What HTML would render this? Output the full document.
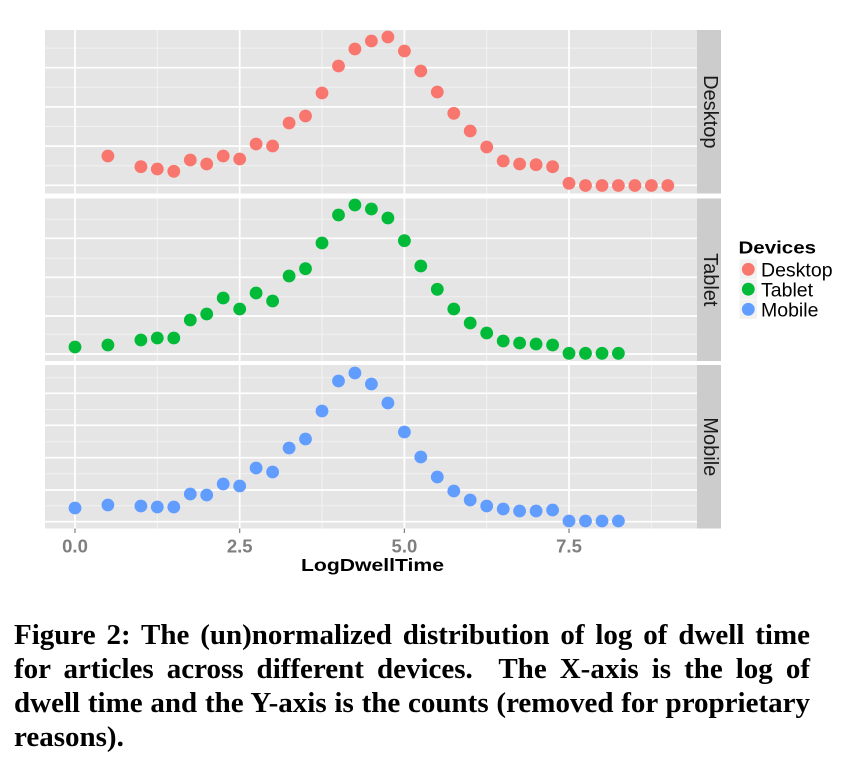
<!DOCTYPE html>
<html>
<head>
<meta charset="utf-8">
<style>
  html, body { margin:0; padding:0; background:#ffffff; }
  body { width:845px; height:769px; position:relative; overflow:hidden; }
  svg { position:absolute; left:0; top:0; }
  .cap { position:absolute; left:14px; width:796px; height:34.1px; line-height:34.1px;
         font-family:"Liberation Serif", serif; font-weight:bold; font-size:29px; color:#000;
         white-space:nowrap; }
  .j { text-align:justify; text-align-last:justify; }
</style>
</head>
<body>
<svg width="845" height="769" viewBox="0 0 845 769" xmlns="http://www.w3.org/2000/svg">
  <!-- Panels background -->
  <rect x="45" y="30" width="652" height="163.5" fill="#e5e5e5"/>
  <rect x="45" y="198.5" width="652" height="162.5" fill="#e5e5e5"/>
  <rect x="45" y="365" width="652" height="163.5" fill="#e5e5e5"/>

  <!-- Panel 1 grid -->
  <g stroke="#f2f2f2" stroke-width="1">
    <line x1="45" x2="697" y1="48.1" y2="48.1"/>
    <line x1="45" x2="697" y1="87.3" y2="87.3"/>
    <line x1="45" x2="697" y1="126.5" y2="126.5"/>
    <line x1="45" x2="697" y1="165.7" y2="165.7"/>
    <line y1="30" y2="193.5" x1="157.3" x2="157.3"/>
    <line y1="30" y2="193.5" x1="322" x2="322"/>
    <line y1="30" y2="193.5" x1="486.7" x2="486.7"/>
    <line y1="30" y2="193.5" x1="651.4" x2="651.4"/>
  </g>
  <g stroke="#ffffff" stroke-width="1.7">
    <line x1="45" x2="697" y1="67.7" y2="67.7"/>
    <line x1="45" x2="697" y1="106.9" y2="106.9"/>
    <line x1="45" x2="697" y1="146.1" y2="146.1"/>
    <line x1="45" x2="697" y1="185.3" y2="185.3"/>
    <line y1="30" y2="193.5" x1="75" x2="75"/>
    <line y1="30" y2="193.5" x1="239.7" x2="239.7"/>
    <line y1="30" y2="193.5" x1="404.4" x2="404.4"/>
    <line y1="30" y2="193.5" x1="569" x2="569"/>
  </g>

  <!-- Panel 2 grid -->
  <g stroke="#f2f2f2" stroke-width="1">
    <line x1="45" x2="697" y1="219.3" y2="219.3"/>
    <line x1="45" x2="697" y1="258.3" y2="258.3"/>
    <line x1="45" x2="697" y1="296.7" y2="296.7"/>
    <line x1="45" x2="697" y1="334.3" y2="334.3"/>
    <line y1="198.5" y2="361" x1="157.3" x2="157.3"/>
    <line y1="198.5" y2="361" x1="322" x2="322"/>
    <line y1="198.5" y2="361" x1="486.7" x2="486.7"/>
    <line y1="198.5" y2="361" x1="651.4" x2="651.4"/>
  </g>
  <g stroke="#ffffff" stroke-width="1.7">
    <line x1="45" x2="697" y1="238.3" y2="238.3"/>
    <line x1="45" x2="697" y1="277.3" y2="277.3"/>
    <line x1="45" x2="697" y1="316" y2="316"/>
    <line x1="45" x2="697" y1="354" y2="354"/>
    <line y1="198.5" y2="361" x1="75" x2="75"/>
    <line y1="198.5" y2="361" x1="239.7" x2="239.7"/>
    <line y1="198.5" y2="361" x1="404.4" x2="404.4"/>
    <line y1="198.5" y2="361" x1="569" x2="569"/>
  </g>

  <!-- Panel 3 grid -->
  <g stroke="#f2f2f2" stroke-width="1">
    <line x1="45" x2="697" y1="377.7" y2="377.7"/>
    <line x1="45" x2="697" y1="409.5" y2="409.5"/>
    <line x1="45" x2="697" y1="441.7" y2="441.7"/>
    <line x1="45" x2="697" y1="473.7" y2="473.7"/>
    <line x1="45" x2="697" y1="505.7" y2="505.7"/>
    <line y1="365" y2="528.5" x1="157.3" x2="157.3"/>
    <line y1="365" y2="528.5" x1="322" x2="322"/>
    <line y1="365" y2="528.5" x1="486.7" x2="486.7"/>
    <line y1="365" y2="528.5" x1="651.4" x2="651.4"/>
  </g>
  <g stroke="#ffffff" stroke-width="1.7">
    <line x1="45" x2="697" y1="393.3" y2="393.3"/>
    <line x1="45" x2="697" y1="425.3" y2="425.3"/>
    <line x1="45" x2="697" y1="457.7" y2="457.7"/>
    <line x1="45" x2="697" y1="490" y2="490"/>
    <line x1="45" x2="697" y1="521.7" y2="521.7"/>
    <line y1="365" y2="528.5" x1="75" x2="75"/>
    <line y1="365" y2="528.5" x1="239.7" x2="239.7"/>
    <line y1="365" y2="528.5" x1="404.4" x2="404.4"/>
    <line y1="365" y2="528.5" x1="569" x2="569"/>
  </g>

  <!-- Strips -->
  <rect x="697" y="30" width="24" height="163.5" fill="#cccccc"/>
  <rect x="697" y="198.5" width="24" height="162.5" fill="#cccccc"/>
  <rect x="697" y="365" width="24" height="163.5" fill="#cccccc"/>
  <g font-family="Liberation Sans, Arial, sans-serif" font-size="20" fill="#1a1a1a" text-anchor="middle">
    <text transform="translate(704,111.8) rotate(90)">Desktop</text>
    <text transform="translate(704,279.8) rotate(90)">Tablet</text>
    <text transform="translate(704,446.8) rotate(90)">Mobile</text>
  </g>

  <!-- Desktop points -->
  <g fill="#F8766D">
    <circle cx="107.9" cy="156" r="6.4"/>
    <circle cx="140.9" cy="166.7" r="6.4"/>
    <circle cx="157.3" cy="169" r="6.4"/>
    <circle cx="173.8" cy="171.3" r="6.4"/>
    <circle cx="190.3" cy="160" r="6.4"/>
    <circle cx="206.7" cy="164" r="6.4"/>
    <circle cx="223.2" cy="156" r="6.4"/>
    <circle cx="239.7" cy="159" r="6.4"/>
    <circle cx="256.1" cy="144" r="6.4"/>
    <circle cx="272.6" cy="146" r="6.4"/>
    <circle cx="289.1" cy="123" r="6.4"/>
    <circle cx="305.5" cy="116" r="6.4"/>
    <circle cx="322" cy="93" r="6.4"/>
    <circle cx="338.5" cy="66" r="6.4"/>
    <circle cx="354.9" cy="49" r="6.4"/>
    <circle cx="371.4" cy="41" r="6.4"/>
    <circle cx="387.9" cy="37" r="6.4"/>
    <circle cx="404.4" cy="51" r="6.4"/>
    <circle cx="420.8" cy="71" r="6.4"/>
    <circle cx="437.3" cy="92" r="6.4"/>
    <circle cx="453.8" cy="113.3" r="6.4"/>
    <circle cx="470.2" cy="131" r="6.4"/>
    <circle cx="486.7" cy="147" r="6.4"/>
    <circle cx="503.2" cy="161" r="6.4"/>
    <circle cx="519.6" cy="164" r="6.4"/>
    <circle cx="536.1" cy="164.7" r="6.4"/>
    <circle cx="552.6" cy="166.7" r="6.4"/>
    <circle cx="569" cy="183.3" r="6.4"/>
    <circle cx="585.5" cy="185.5" r="6.4"/>
    <circle cx="602" cy="185.5" r="6.4"/>
    <circle cx="618.4" cy="185.5" r="6.4"/>
    <circle cx="634.9" cy="185.5" r="6.4"/>
    <circle cx="651.4" cy="185.5" r="6.4"/>
    <circle cx="667.8" cy="185.5" r="6.4"/>
  </g>

  <!-- Tablet points -->
  <g fill="#00BA38">
    <circle cx="75" cy="347" r="6.4"/>
    <circle cx="107.9" cy="345" r="6.4"/>
    <circle cx="140.9" cy="340" r="6.4"/>
    <circle cx="157.3" cy="338" r="6.4"/>
    <circle cx="173.8" cy="338" r="6.4"/>
    <circle cx="190.3" cy="320" r="6.4"/>
    <circle cx="206.7" cy="314" r="6.4"/>
    <circle cx="223.2" cy="298" r="6.4"/>
    <circle cx="239.7" cy="309" r="6.4"/>
    <circle cx="256.1" cy="293" r="6.4"/>
    <circle cx="272.6" cy="301" r="6.4"/>
    <circle cx="289.1" cy="276" r="6.4"/>
    <circle cx="305.5" cy="268.7" r="6.4"/>
    <circle cx="322" cy="243" r="6.4"/>
    <circle cx="338.5" cy="215" r="6.4"/>
    <circle cx="354.9" cy="205" r="6.4"/>
    <circle cx="371.4" cy="209" r="6.4"/>
    <circle cx="387.9" cy="218" r="6.4"/>
    <circle cx="404.4" cy="240.7" r="6.4"/>
    <circle cx="420.8" cy="266" r="6.4"/>
    <circle cx="437.3" cy="289.3" r="6.4"/>
    <circle cx="453.8" cy="309" r="6.4"/>
    <circle cx="470.2" cy="323" r="6.4"/>
    <circle cx="486.7" cy="333" r="6.4"/>
    <circle cx="503.2" cy="341" r="6.4"/>
    <circle cx="519.6" cy="343" r="6.4"/>
    <circle cx="536.1" cy="344" r="6.4"/>
    <circle cx="552.6" cy="345" r="6.4"/>
    <circle cx="569" cy="353.3" r="6.4"/>
    <circle cx="585.5" cy="353.3" r="6.4"/>
    <circle cx="602" cy="353.3" r="6.4"/>
    <circle cx="618.4" cy="353.3" r="6.4"/>
  </g>

  <!-- Mobile points -->
  <g fill="#619CFF">
    <circle cx="75" cy="508" r="6.4"/>
    <circle cx="107.9" cy="505" r="6.4"/>
    <circle cx="140.9" cy="506" r="6.4"/>
    <circle cx="157.3" cy="507" r="6.4"/>
    <circle cx="173.8" cy="507" r="6.4"/>
    <circle cx="190.3" cy="494" r="6.4"/>
    <circle cx="206.7" cy="495" r="6.4"/>
    <circle cx="223.2" cy="484" r="6.4"/>
    <circle cx="239.7" cy="486" r="6.4"/>
    <circle cx="256.1" cy="468" r="6.4"/>
    <circle cx="272.6" cy="472" r="6.4"/>
    <circle cx="289.1" cy="448" r="6.4"/>
    <circle cx="305.5" cy="439" r="6.4"/>
    <circle cx="322" cy="411" r="6.4"/>
    <circle cx="338.5" cy="381" r="6.4"/>
    <circle cx="354.9" cy="373" r="6.4"/>
    <circle cx="371.4" cy="384" r="6.4"/>
    <circle cx="387.9" cy="403" r="6.4"/>
    <circle cx="404.4" cy="432" r="6.4"/>
    <circle cx="420.8" cy="457" r="6.4"/>
    <circle cx="437.3" cy="477" r="6.4"/>
    <circle cx="453.8" cy="491" r="6.4"/>
    <circle cx="470.2" cy="500" r="6.4"/>
    <circle cx="486.7" cy="506" r="6.4"/>
    <circle cx="503.2" cy="509" r="6.4"/>
    <circle cx="519.6" cy="511" r="6.4"/>
    <circle cx="536.1" cy="511" r="6.4"/>
    <circle cx="552.6" cy="510" r="6.4"/>
    <circle cx="569" cy="521" r="6.4"/>
    <circle cx="585.5" cy="521" r="6.4"/>
    <circle cx="602" cy="521" r="6.4"/>
    <circle cx="618.4" cy="521" r="6.4"/>
  </g>

  <!-- X axis ticks -->
  <g stroke="#7f7f7f" stroke-width="1.2">
    <line x1="75" x2="75" y1="528.5" y2="533"/>
    <line x1="239.7" x2="239.7" y1="528.5" y2="533"/>
    <line x1="404.4" x2="404.4" y1="528.5" y2="533"/>
    <line x1="569" x2="569" y1="528.5" y2="533"/>
  </g>
  <g font-family="Liberation Sans, Arial, sans-serif" font-size="18.5" font-weight="bold" fill="#7f7f7f" text-anchor="middle">
    <text x="75" y="552.5">0.0</text>
    <text x="239.7" y="552.5">2.5</text>
    <text x="404.4" y="552.5">5.0</text>
    <text x="569" y="552.5">7.5</text>
  </g>
  <text x="301" y="571" font-family="Liberation Sans, Arial, sans-serif" font-size="17.5" font-weight="bold" fill="#000" textLength="143" lengthAdjust="spacingAndGlyphs">LogDwellTime</text>

  <!-- Legend -->
  <text x="738.5" y="253.5" font-family="Liberation Sans, Arial, sans-serif" font-size="17.5" font-weight="bold" fill="#000" textLength="77.5" lengthAdjust="spacingAndGlyphs">Devices</text>
  <rect x="739.5" y="259.5" width="17.5" height="19.5" fill="#f2f2f2"/>
  <rect x="739.5" y="279.5" width="17.5" height="19.5" fill="#f2f2f2"/>
  <rect x="739.5" y="299.5" width="17.5" height="19.5" fill="#f2f2f2"/>
  <circle cx="748.3" cy="269.3" r="6.4" fill="#F8766D"/>
  <circle cx="748.3" cy="289.2" r="6.4" fill="#00BA38"/>
  <circle cx="748.3" cy="309.3" r="6.4" fill="#619CFF"/>
  <g font-family="Liberation Sans, Arial, sans-serif" font-size="19.5" fill="#000">
    <text x="761" y="276.7">Desktop</text>
    <text x="761" y="296.7">Tablet</text>
    <text x="761" y="316.7">Mobile</text>
  </g>
</svg>

<div class="cap j" style="top:617.5px;">Figure 2: The (un)normalized distribution of log of dwell time</div>
<div class="cap j" style="top:651.6px;">for articles across different devices.&nbsp; The X-axis is the log of</div>
<div class="cap j" style="top:685.7px;">dwell time and the Y-axis is the counts (removed for proprietary</div>
<div class="cap" style="top:719.8px;">reasons).</div>
</body>
</html>
